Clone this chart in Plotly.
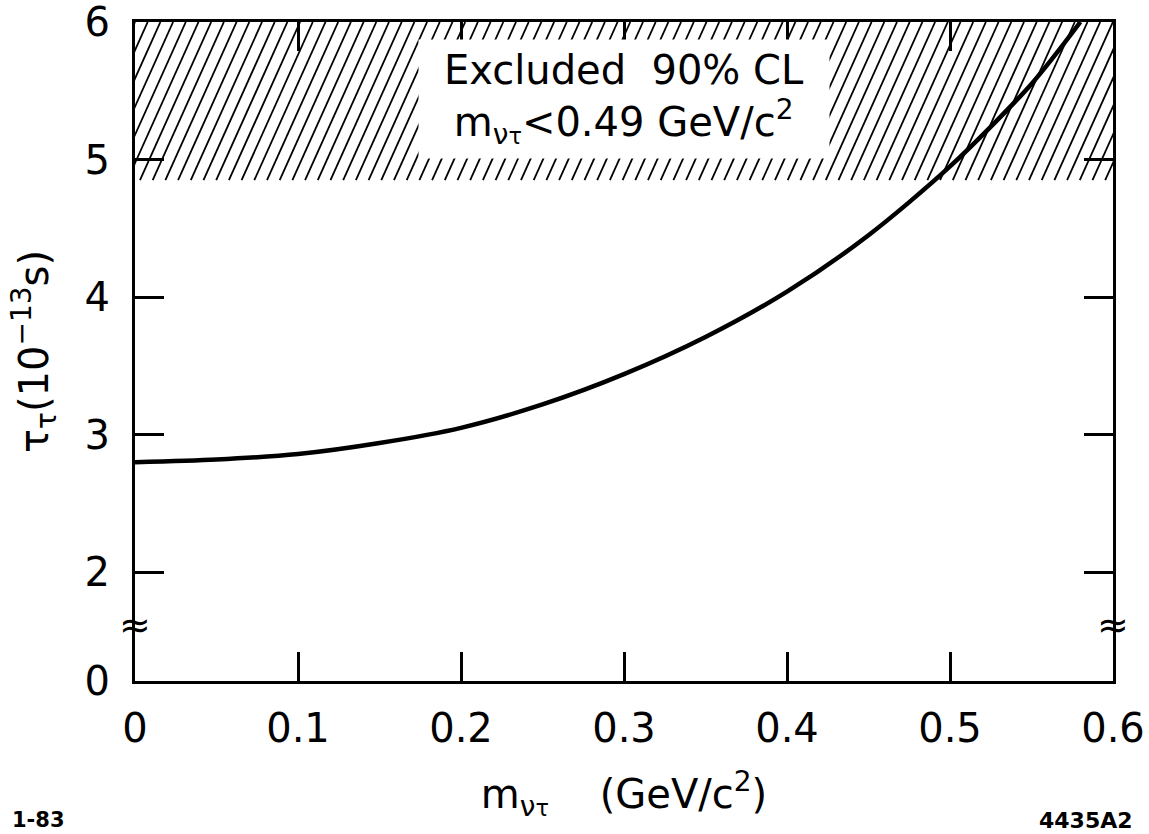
import numpy as np
import plotly.graph_objects as go

# ---- data ----
mass = [0.0, 0.05, 0.10, 0.15, 0.20, 0.25, 0.30, 0.35, 0.40, 0.45, 0.50, 0.55, 0.58]
lifetime = [2.80, 2.82, 2.86, 2.94, 3.05, 3.22, 3.44, 3.71, 4.04, 4.45, 4.95, 5.55, 6.00]

excluded_low = 4.85   # lower edge of excluded (hatched) band
excluded_high = 6.0
x_range = [0.0, 0.6]

x_ticks = [0.0, 0.1, 0.2, 0.3, 0.4, 0.5, 0.6]
x_tick_labels = ["0", "0.1", "0.2", "0.3", "0.4", "0.5", "0.6"]
y_break_zero = 1.21   # axis position used for the suppressed "0" after the break
y_ticks = [y_break_zero, 2, 3, 4, 5, 6]
y_tick_labels = ["0", "2", "3", "4", "5", "6"]
y_break = 1.615

# ---- figure geometry ----
W, H = 1149, 834
ML, MR, MT, MB = 135, 36, 22, 153
plot_w = W - ML - MR
plot_h = H - MT - MB
y_range = [y_break_zero, 6.0]
px_per_x = plot_w / (x_range[1] - x_range[0])
px_per_y = plot_h / (y_range[1] - y_range[0])

# hatch lines for the excluded region (steep "/" lines)
spacing_px = 12.7
slant = 0.45  # horizontal px per vertical px
dy_px = (excluded_high - excluded_low) * px_per_y
dx_data = slant * dy_px / px_per_x
step = spacing_px / px_per_x
hx, hy = [], []
xb = x_range[0] - dx_data
while xb < x_range[1]:
    hx += [xb, xb + dx_data, None]
    hy += [excluded_low, excluded_high, None]
    xb += step

FONT = "DejaVu Sans"

fig = go.Figure()
fig.add_trace(go.Scatter(x=hx, y=hy, mode="lines",
                         line=dict(color="black", width=1.8),
                         hoverinfo="skip", showlegend=False))
fig.add_trace(go.Scatter(x=mass, y=lifetime, mode="lines",
                         line=dict(color="black", width=4.5, shape="spline", smoothing=0.8),
                         showlegend=False))

fig.add_annotation(
    x=0.3, y=5.44, xref="x", yref="y",
    text="Excluded  90% CL<br>m<sub>ν<span style='font-size:80%'>τ</span></sub><0.49 GeV/c<sup>2</sup>",
    showarrow=False, align="center",
    font=dict(family=FONT, size=40, color="black"),
    bgcolor="white", width=408, height=116,
)

for xv in x_range:
    fig.add_annotation(x=xv, y=y_break, xref="x", yref="y", text="≈",
                       showarrow=False, font=dict(family=FONT, size=38, color="black"))

fig.add_annotation(x=0, y=0, xref="paper", yref="paper", xanchor="left", yanchor="top",
                   xshift=-125, yshift=-125, text="<b>1-83</b>", showarrow=False,
                   font=dict(family=FONT, size=21, color="black"))
fig.add_annotation(x=1, y=0, xref="paper", yref="paper", xanchor="right", yanchor="top",
                   xshift=22, yshift=-125, text="<b>4435A2</b>", showarrow=False,
                   font=dict(family=FONT, size=22, color="black"))

axis_common = dict(showgrid=False, zeroline=False, showline=True, linecolor="black",
                   linewidth=3, ticks="inside", ticklen=29, tickwidth=2.5,
                   tickcolor="black", mirror="ticks", ticklabeloverflow="allow",
                   tickfont=dict(family=FONT, size=40, color="black"))

fig.update_xaxes(range=x_range, tickvals=x_ticks, ticktext=x_tick_labels,
                 ticklabelstandoff=10,
                 title=dict(text="m<sub>ν<span style='font-size:80%'>τ</span></sub>    (GeV/c<sup>2</sup>)",
                            font=dict(family=FONT, size=40, color="black"), standoff=30),
                 **axis_common)
fig.update_yaxes(range=y_range, tickvals=y_ticks, ticktext=y_tick_labels,
                 ticklabelstandoff=14,
                 title=dict(text="τ<sub>τ</sub>(10<sup>−13</sup>s)",
                            font=dict(family=FONT, size=40, color="black"), standoff=24),
                 **axis_common)

fig.update_layout(width=W, height=H, margin=dict(l=ML, r=MR, t=MT, b=MB, autoexpand=False),
                  plot_bgcolor="white", paper_bgcolor="white")

fig.write_html("out.html")
